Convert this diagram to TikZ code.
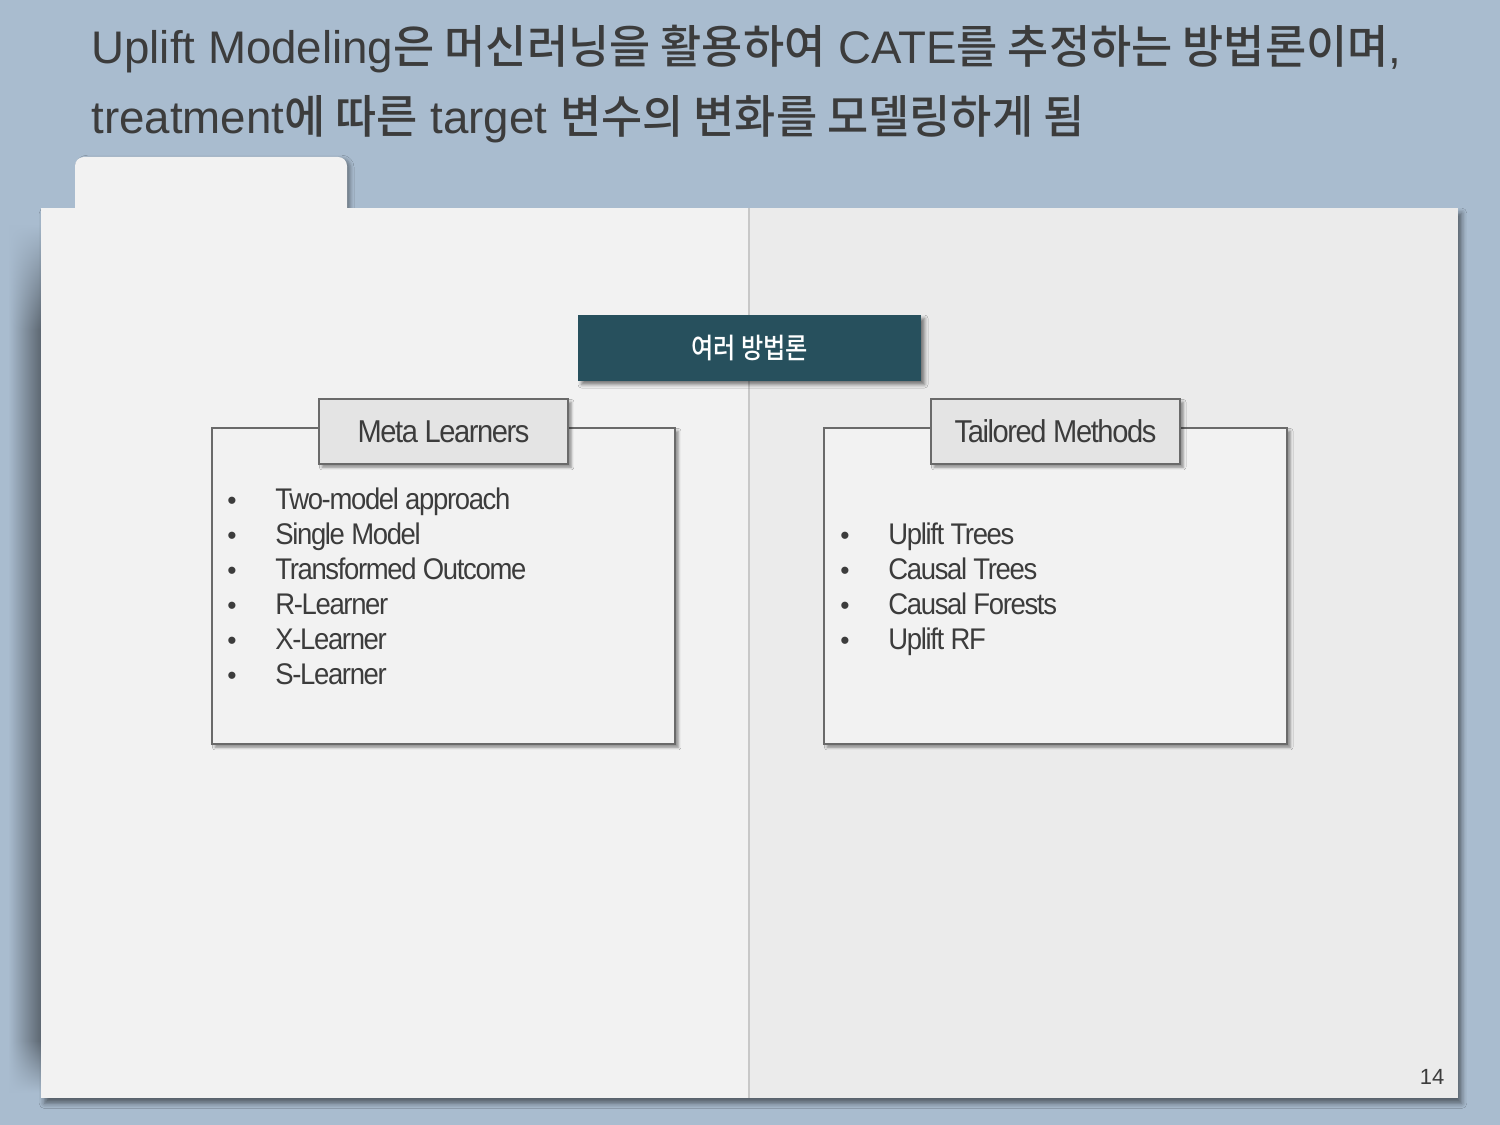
\documentclass[tikz,border=0pt]{standalone}
\usepackage{fontspec}
\setmainfont{Liberation Sans}
\newfontfamily\ttlfont{Liberation Sans}
\newfontfamily\krt{Noto Sans CJK KR}[UprightFont={* Medium},FakeStretch=0.98]
\newfontfamily\krh{Noto Sans CJK KR}[UprightFont={* Medium},FakeStretch=0.86]
\newfontfamily\itemfont[FakeStretch=0.92,LetterSpace=-4.5]{Liberation Sans}
\usetikzlibrary{shadows,shadows.blur,fadings}
\definecolor{bgc}{HTML}{A9BCCF}
\definecolor{shmid}{HTML}{8A98A6}
\definecolor{shdark}{HTML}{5A646E}
\definecolor{pageL}{HTML}{F2F2F2}
\definecolor{pageR}{HTML}{EBEBEB}
\definecolor{midline}{HTML}{C8C8C8}
\definecolor{headc}{HTML}{27505D}
\definecolor{labelc}{HTML}{E4E4E4}
\definecolor{edgec}{HTML}{6A6A6A}
\definecolor{textc}{HTML}{3C3C3C}
\definecolor{titlec}{HTML}{3C3C3C}
\tikzfading[name=fadetop, top color=transparent!100, bottom color=transparent!0]
\tikzfading[name=fadebot, top color=transparent!0, bottom color=transparent!100]
\tikzset{
  smallshadow/.style={blur shadow={shadow xshift=1.8pt, shadow yshift=-1.8pt, shadow blur radius=1.6pt, shadow opacity=45}},
  boxframe/.style={draw=edgec, line width=0.7pt, fill=pageL, smallshadow},
  labelbox/.style={draw=edgec, line width=0.7pt, fill=labelc, smallshadow, minimum width=249*0.02cm, minimum height=65*0.02cm, inner sep=0pt, text=textc, font=\itemfont\fontsize{18}{20}\selectfont},
  item/.style={anchor=base west, inner sep=0pt, text=textc, font=\itemfont\fontsize{17}{19}\selectfont},
  bul/.style={anchor=base, inner sep=0pt, text=textc, font=\fontsize{15}{16}\selectfont},
  titletext/.style={anchor=base west, inner sep=0pt, text=titlec, font=\ttlfont\fontsize{26}{30}\selectfont},
  sideshade/.style={left color=bgc, middle color=shmid, right color=shdark}
}
\begin{document}
\begin{tikzpicture}[x=0.02cm,y=-0.02cm]
\useasboundingbox (0,0) rectangle (1500,1125);
\fill[bgc] (0,0) rectangle (1500,1125);
% title
\node[titletext] (t1) at (91,64) {Uplift Modeling{\krt 은 머신러닝을 활용하여} CATE{\krt 를 추정하는 방법론이며},};
\node[titletext] (t2) at (91,134) {treatment{\krt 에 따른} target {\krt 변수의 변화를 모델링하게 됨}};
% tab
\fill[pageL, rounded corners=5pt, blur shadow={shadow xshift=2pt, shadow yshift=-1pt, shadow blur radius=2pt, shadow opacity=35}] (75,240) -- (75,157) -- (347,157) -- (347,240) -- cycle;
% page shadows
\path[blur shadow={shadow xshift=2pt, shadow yshift=-3pt, shadow blur radius=3pt, shadow opacity=50}] (41,208) rectangle (1458,1098);
\shade[sideshade, path fading=fadetop] (8,225) rectangle (42,330);
\shade[sideshade] (8,329) rectangle (42,1041);
\shade[sideshade, path fading=fadebot] (8,1040) rectangle (42,1092);
% page
\fill[pageL] (41,208) rectangle (749,1098);
\fill[pageR] (749,208) rectangle (1458,1098);
\draw[midline, line width=0.6pt] (749,208) -- (749,1098);
% header
\node[fill=headc, minimum width=343*0.02cm, minimum height=66*0.02cm, inner sep=0pt,
  blur shadow={shadow xshift=2pt, shadow yshift=-2pt, shadow blur radius=2pt, shadow opacity=50},
  text=white, font=\krh\fontsize{16}{18}\selectfont] (head) at (749.5,348) {여러 방법론};
% left box
\path[boxframe] (212,428) rectangle (675,744);
\node[labelbox] (meta) at (443.5,431.5) {Meta Learners};
\foreach \t [count=\i] in {Two-model approach, Single Model, Transformed Outcome, R-Learner, X-Learner, S-Learner}{
  \node[bul] (lb\i) at (232,{509+35*(\i-1)}) {•};
  \node[item] (li\i) at (275,{509+35*(\i-1)}) {\t};
}
% right box
\path[boxframe] (824,428) rectangle (1287,744);
\node[labelbox] (tail) at (1055.5,431.5) {Tailored Methods};
\foreach \t [count=\i] in {Uplift Trees, Causal Trees, Causal Forests, Uplift RF}{
  \node[bul] (rb\i) at (845,{544+35*(\i-1)}) {•};
  \node[item] (ri\i) at (888,{544+35*(\i-1)}) {\t};
}
% page number
\node[text=textc, inner sep=0pt, font=\fontsize{12.5}{14}\selectfont] (pnum) at (1432,1077) {14};
\end{tikzpicture}
\end{document}
